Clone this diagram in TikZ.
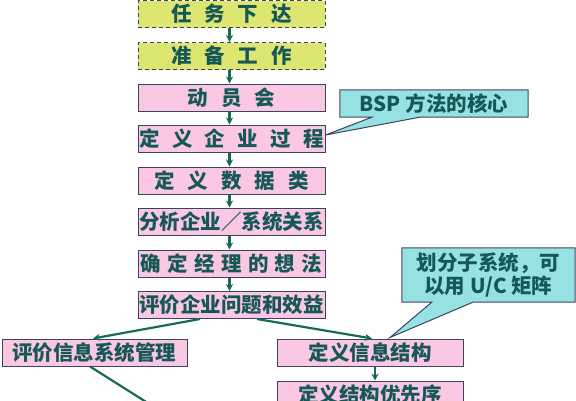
\documentclass[tikz,border=0pt]{standalone}
\usepackage{fontspec}
\setmainfont{Noto Sans CJK SC}
\usetikzlibrary{arrows.meta,calc}
\definecolor{pinkf}{RGB}{250,200,226}
\definecolor{yelf}{RGB}{221,230,112}
\definecolor{tealf}{RGB}{150,226,226}
\definecolor{txt}{RGB}{22,88,88}
\definecolor{edgec}{RGB}{60,66,100}
\definecolor{conn}{RGB}{25,105,90}
\newcommand\chgap[1][13pt]{\hspace{#1}}
\tikzset{
  box/.style={draw=edgec, line width=1pt, minimum width=187pt, minimum height=27pt,
    inner sep=0pt, font=\fontsize{20.5}{22}\selectfont\bfseries, text=txt},
  pbox/.style={box, fill=pinkf},
  ybox/.style={box, fill=yelf, dash pattern=on 4pt off 3pt},
  arr/.style={draw=conn, line width=2.2pt, -{Stealth[length=7pt,width=7pt]}},
  plain/.style={draw=conn, line width=2.2pt},
  calloutbox/.style={fill=tealf, inner sep=0pt, font=\fontsize{20.5}{23}\selectfont\bfseries,
    text=txt, align=center},
  calloutline/.style={draw=edgec, line width=1pt, line join=miter},
}
\begin{document}
\begin{tikzpicture}[x=1pt,y=-1pt]
\useasboundingbox (0,0) rectangle (576,400);
\clip (0,0) rectangle (576,400);
% main column
\node[ybox] (n1) at (231.5,14) {任\chgap 务\chgap 下\chgap 达};
\node[ybox] (n2) at (231.5,56) {准\chgap 备\chgap 工\chgap 作};
\node[pbox] (n3) at (231.5,97.5) {动\chgap 员\chgap 会};
\node[pbox] (n4) at (231.5,138.5) {定\chgap[12.3pt]义\chgap[12.3pt]企\chgap[12.3pt]业\chgap[12.3pt]过\chgap[12.3pt]程};
\node[pbox] (n5) at (231.5,180.5) {定\chgap 义\chgap 数\chgap 据\chgap 类};
\node[pbox] (n6) at (231.5,221.5) {分析企业／系统关系};
\node[pbox] (n7) at (231.5,263.5) {确\chgap[6.3pt]定\chgap[6.3pt]经\chgap[6.3pt]理\chgap[6.3pt]的\chgap[6.3pt]想\chgap[6.3pt]法};
\node[pbox] (n8) at (231.5,305) {评价企业问题和效益};
\node[pbox, minimum width=185pt] (n9) at (94.5,352.5) {评价信息系统管理};
\node[pbox, minimum width=186pt] (n10) at (370,352.5) {定义信息结构};
\node[pbox, minimum width=186pt] (n11) at (370,394.5) {定义结构优先序};
% column arrows
\foreach \a/\b in {n1/n2,n2/n3,n3/n4,n4/n5,n5/n6,n6/n7,n7/n8}
  \draw[arr] ($(\a.south)+(-2,0)$) -- ($(\b.north)+(-2,0)$);
\draw[arr] ($(n8.south)+(-31.5,0)$) -- ($(n9.north)+(-1.5,0)$);
\draw[arr] ($(n8.south)+(25.5,0)$) -- ($(n10.north)+(2,0)$);
\draw[arr] ($(n10.south)+(5,0)$) -- ($(n11.north)+(5,0)$);
\coordinate (off) at (170,417);
\draw[plain] ($(n9.south)+(-4.5,0)$) -- (off);
% callout 1
\node[calloutbox, minimum width=188pt, minimum height=27pt] (c1) at (434,103.5) {BSP 方法的核心};
\coordinate (t1) at ($(n4.east)+(0,-3.5)$);
\coordinate (b1a) at ($(c1.south west)+(32,0)$);
\coordinate (b1b) at ($(c1.south west)+(80,0)$);
\fill[tealf] (b1a) -- (t1) -- (b1b) -- cycle;
\draw[calloutline] (c1.south west) -- (c1.north west) -- (c1.north east) -- (c1.south east) -- (b1b) -- (t1) -- (b1a) -- cycle;
% callout 2
\node[calloutbox, minimum width=173pt, minimum height=54pt] (c2) at (488.5,275) {划分子系统，可\\以用 U/C 矩阵};
\coordinate (t2) at ($(n10.north)+(20,-1)$);
\coordinate (b2a) at ($(c2.south west)+(30,0)$);
\coordinate (b2b) at ($(c2.south west)+(71,0)$);
\fill[tealf] (b2a) -- (t2) -- (b2b) -- cycle;
\draw[calloutline] (c2.south west) -- (c2.north west) -- (c2.north east) -- (c2.south east) -- (b2b) -- (t2) -- (b2a) -- cycle;
\end{tikzpicture}
\end{document}
